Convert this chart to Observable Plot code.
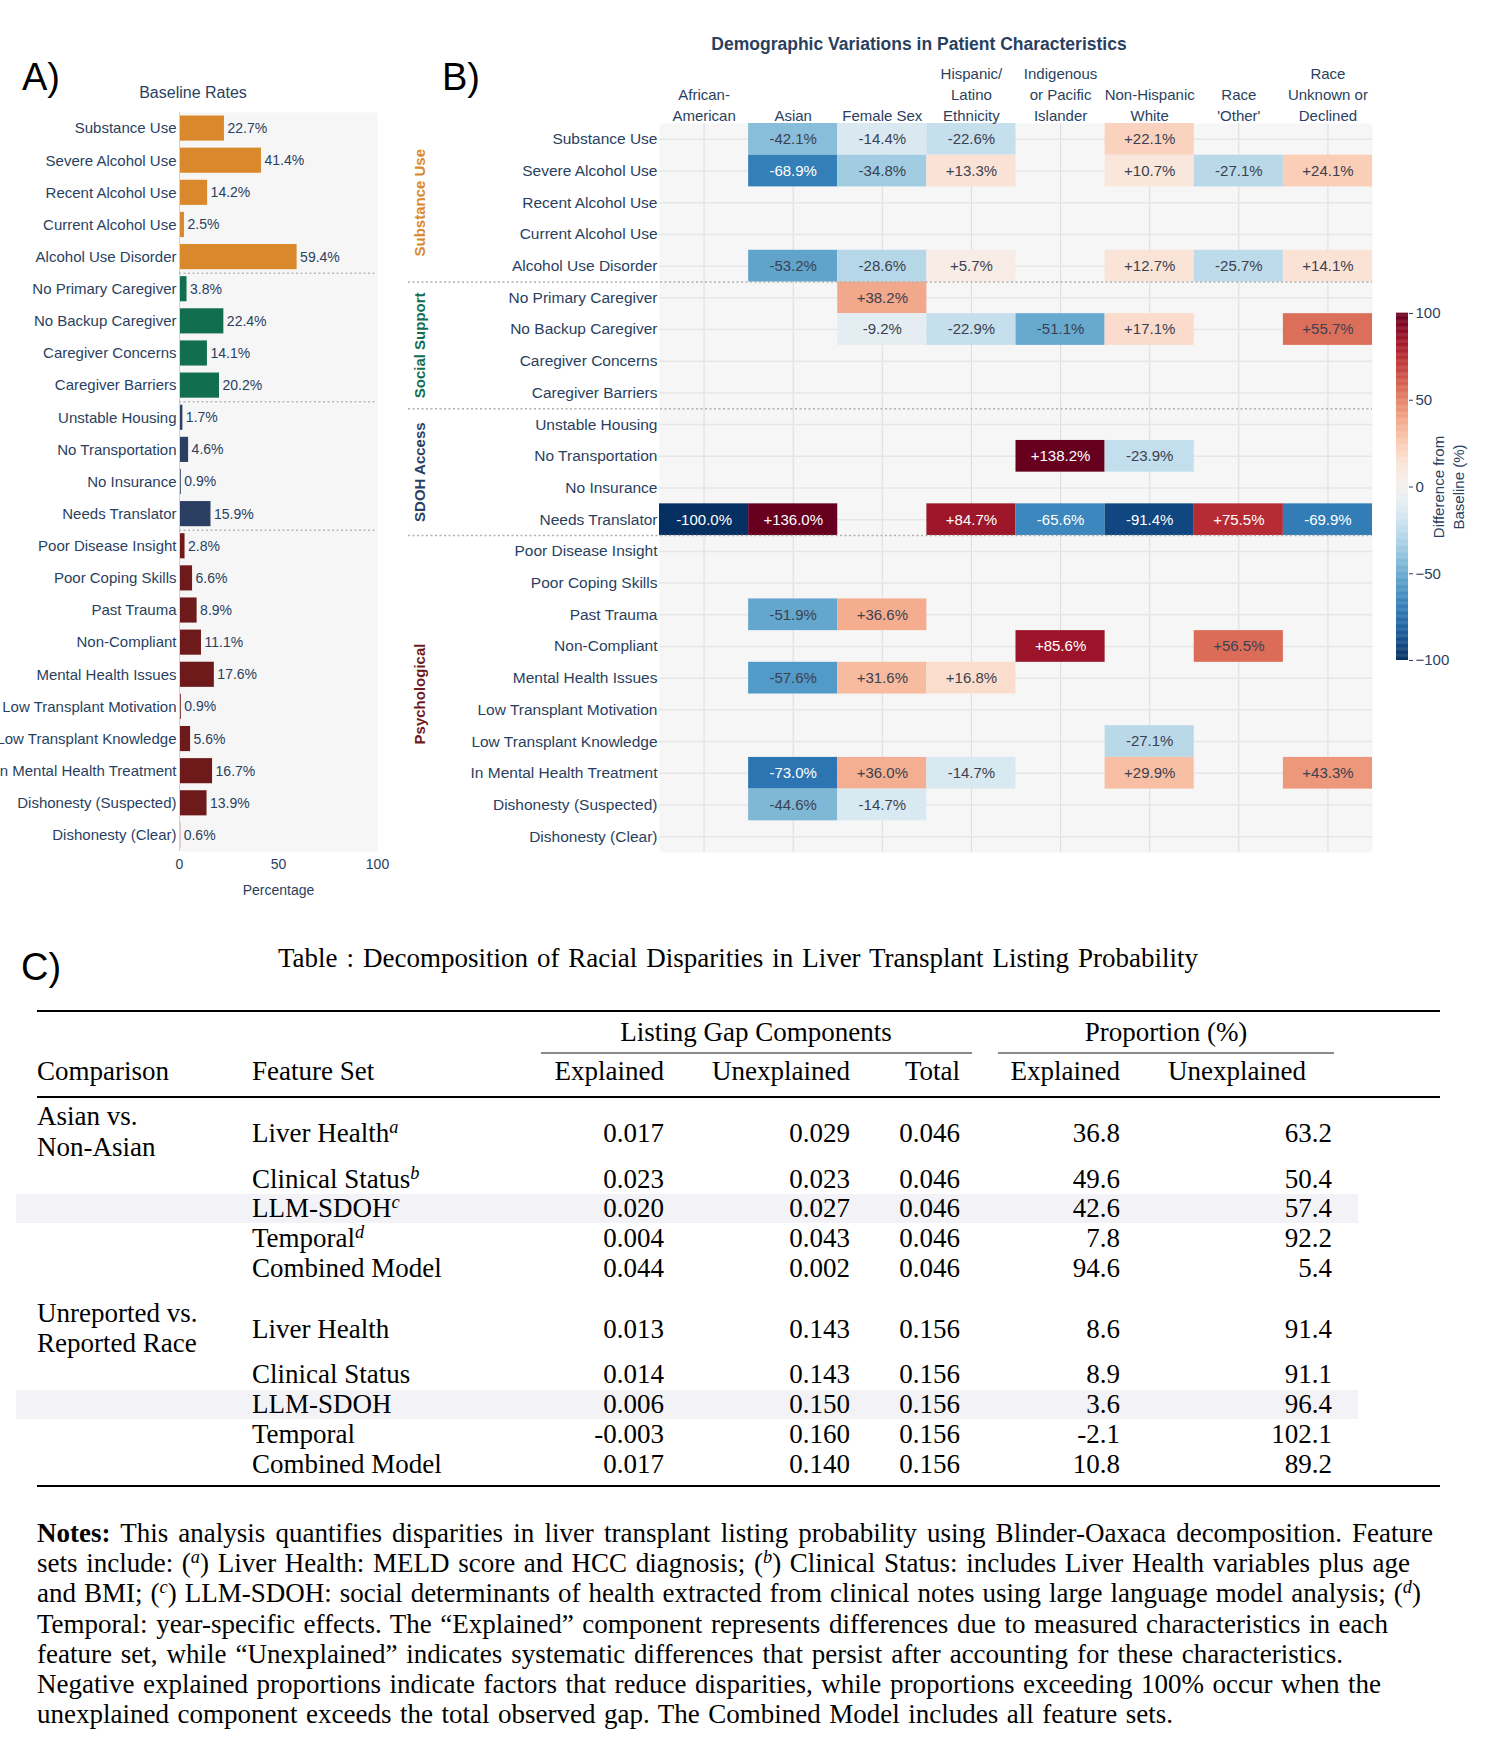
<!DOCTYPE html>
<html>
<head>
<meta charset="utf-8">
<script src="https://cdn.jsdelivr.net/npm/d3@7"></script>
<script src="https://cdn.jsdelivr.net/npm/@observablehq/plot@0.6"></script>
<style>
  html, body { margin: 0; padding: 0; background: #ffffff; }
  #page { position: relative; width: 1493px; height: 1742px; overflow: hidden; background: #fff; }
  .abs { position: absolute; white-space: nowrap; }
  .sans { font-family: "Liberation Sans", Arial, Helvetica, sans-serif; color: #2a3f5f; }
  .serif { font-family: "Liberation Serif", "Times New Roman", serif; color: #000; font-size: 27px; line-height: 1.2; }
  .panel-label { font-family: "Liberation Sans", Arial, Helvetica, sans-serif; font-size: 38px; line-height: 1; color: #000; }
  .rule { position: absolute; }
  sup.fn { font-size: 0.68em; font-style: italic; vertical-align: 0.5em; line-height: 0; }
</style>
</head>
<body>
<div id="page"></div>
<script>
// ---------------- DATA ----------------
const features = [
  "Substance Use", "Severe Alcohol Use", "Recent Alcohol Use", "Current Alcohol Use", "Alcohol Use Disorder",
  "No Primary Caregiver", "No Backup Caregiver", "Caregiver Concerns", "Caregiver Barriers",
  "Unstable Housing", "No Transportation", "No Insurance", "Needs Translator",
  "Poor Disease Insight", "Poor Coping Skills", "Past Trauma", "Non-Compliant", "Mental Health Issues",
  "Low Transplant Motivation", "Low Transplant Knowledge", "In Mental Health Treatment",
  "Dishonesty (Suspected)", "Dishonesty (Clear)"
];
const featureGroup = [
  "Substance Use", "Substance Use", "Substance Use", "Substance Use", "Substance Use",
  "Social Support", "Social Support", "Social Support", "Social Support",
  "SDOH Access", "SDOH Access", "SDOH Access", "SDOH Access",
  "Psychological", "Psychological", "Psychological", "Psychological", "Psychological",
  "Psychological", "Psychological", "Psychological", "Psychological", "Psychological"
];
const baselineRates = [22.7, 41.4, 14.2, 2.5, 59.4, 3.8, 22.4, 14.1, 20.2, 1.7, 4.6, 0.9, 15.9,
  2.8, 6.6, 8.9, 11.1, 17.6, 0.9, 5.6, 16.7, 13.9, 0.6];
const groups = ["Substance Use", "Social Support", "SDOH Access", "Psychological"];
const groupColors = ["#d9892b", "#116e4f", "#2b3f63", "#6f1a1a"];

const demographics = ["African-American", "Asian", "Female Sex", "Hispanic/Latino Ethnicity",
  "Indigenous or Pacific Islander", "Non-Hispanic White", "Race 'Other'", "Race Unknown or Declined"];
const demographicHeaders = ["African-\nAmerican", "Asian", "Female Sex", "Hispanic/\nLatino\nEthnicity",
  "Indigenous\nor Pacific\nIslander", "Non-Hispanic\nWhite", "Race\n'Other'", "Race\nUnknown or\nDeclined"];

// difference from baseline (%) per demographic, in the order of `features` (null = no cell)
const diffAfricanAmerican = [null,null,null,null,null, null,null,null,null, null,null,null,-100.0, null,null,null,null,null,null,null,null,null,null];
const diffAsian =          [-42.1,-68.9,null,null,-53.2, null,null,null,null, null,null,null,136.0, null,null,-51.9,null,-57.6,null,null,-73.0,-44.6,null];
const diffFemale =         [-14.4,-34.8,null,null,-28.6, 38.2,-9.2,null,null, null,null,null,null, null,null,36.6,null,31.6,null,null,36.0,-14.7,null];
const diffHispanic =       [-22.6,13.3,null,null,5.7, null,-22.9,null,null, null,null,null,84.7, null,null,null,null,16.8,null,null,-14.7,null,null];
const diffIndigenous =     [null,null,null,null,null, null,-51.1,null,null, null,138.2,null,-65.6, null,null,null,85.6,null,null,null,null,null,null];
const diffNonHispWhite =   [22.1,10.7,null,null,12.7, null,17.1,null,null, null,-23.9,null,-91.4, null,null,null,null,null,null,-27.1,29.9,null,null];
const diffRaceOther =      [null,-27.1,null,null,-25.7, null,null,null,null, null,null,null,75.5, null,null,null,56.5,null,null,null,null,null,null];
const diffRaceUnknown =    [null,24.1,null,null,14.1, null,55.7,null,null, null,null,null,-69.9, null,null,null,null,null,null,null,43.3,null,null];
const colorbarTicks = [-100, -50, 0, 50, 100];

// Table C
const comparisons = [["Asian vs.", "Non-Asian"], ["Unreported vs.", "Reported Race"]];
const featureSets = ["Liver Health", "Clinical Status", "LLM-SDOH", "Temporal", "Combined Model"];
const footnoteMarks = ["a", "b", "c", "d", ""];
const gapExplained   = [[0.017, 0.023, 0.020, 0.004, 0.044], [0.013, 0.014, 0.006, -0.003, 0.017]];
const gapUnexplained = [[0.029, 0.023, 0.027, 0.043, 0.002], [0.143, 0.143, 0.150, 0.160, 0.140]];
const gapTotal       = [[0.046, 0.046, 0.046, 0.046, 0.046], [0.156, 0.156, 0.156, 0.156, 0.156]];
const propExplained  = [[36.8, 49.6, 42.6, 7.8, 94.6], [8.6, 8.9, 3.6, -2.1, 10.8]];
const propUnexplained= [[63.2, 50.4, 57.4, 92.2, 5.4], [91.4, 91.1, 96.4, 102.1, 89.2]];

// ---------------- LAYOUT HELPERS ----------------
const page = document.getElementById("page");
const SANS = '"Liberation Sans", Arial, Helvetica, sans-serif';
const INK = "#2a3f5f";

function put(html, x, y, {anchor = "start", cls = "", style = {}} = {}) {
  const el = document.createElement("div");
  el.className = "abs " + cls;
  el.innerHTML = html;
  el.style.left = x + "px";
  el.style.top = y + "px";
  const tx = anchor === "start" ? 0 : anchor === "middle" ? -50 : -100;
  el.style.transform = `translate(${tx}%, -50%)`;
  Object.assign(el.style, style);
  page.appendChild(el);
  return el;
}
function fitWidth(el, target) {
  const w = el.getBoundingClientRect().width;
  const spaces = (el.textContent.match(/ /g) || []).length;
  if (spaces > 0) el.style.wordSpacing = ((target - w) / spaces) + "px";
}
function hline(x1, x2, y, thick, color) {
  const el = document.createElement("div");
  el.className = "rule";
  el.style.left = x1 + "px";
  el.style.width = (x2 - x1) + "px";
  el.style.top = (y - thick / 2) + "px";
  el.style.height = thick + "px";
  el.style.background = color;
  page.appendChild(el);
}
function box(x1, x2, y1, y2, color) {
  const el = document.createElement("div");
  el.className = "rule";
  Object.assign(el.style, {left: x1 + "px", width: (x2 - x1) + "px", top: y1 + "px", height: (y2 - y1) + "px", background: color});
  page.appendChild(el);
}
function placeSvg(svg, left, top) {
  svg.style.position = "absolute";
  svg.style.left = left + "px";
  svg.style.top = top + "px";
  page.appendChild(svg);
}

// ---------------- PANEL A ----------------
const rowsA = features.map((f, i) => ({feature: f, value: baselineRates[i], group: featureGroup[i]}));
const groupLast = groups.slice(0, -1).map(g => features[featureGroup.lastIndexOf(g)]);
const A = {width: 400, height: 920, top: 112, bottom: 851, left: 179, right: 377};
const stepA = (A.bottom - A.top) / features.length;

const plotA = Plot.plot({
  width: A.width, height: A.height,
  marginLeft: A.left, marginRight: A.width - A.right, marginTop: A.top, marginBottom: A.height - A.bottom,
  style: {fontFamily: SANS, fontSize: "15px", color: INK, background: "transparent"},
  x: {domain: [0, 100], axis: null},
  y: {domain: features, padding: 0, round: false, axis: null},
  color: {domain: groups, range: groupColors},
  marks: [
    Plot.frame({fill: "#f6f6f6", stroke: "none"}),
    Plot.barX(rowsA, {x: "value", y: "feature", fill: "group", insetTop: 3.5, insetBottom: 3.5}),
    Plot.ruleX([0], {stroke: "#d2d2d2"}),
    Plot.ruleY(groupLast, {dy: stepA / 2, stroke: "#b8b8b8", strokeWidth: 1.5, strokeDasharray: "2,2.5"}),
    Plot.text(rowsA, {x: "value", y: "feature", text: d => d.value.toFixed(1) + "%", textAnchor: "start", dx: 3, fill: INK, fontSize: 14}),
    Plot.axisY({tickSize: 0, tickPadding: 3, label: null}),
    Plot.axisX({ticks: [0, 50, 100], tickSize: 0, tickPadding: 8, label: null, fontSize: 14}),
    Plot.text(["Percentage"], {frameAnchor: "bottom", dy: 39, lineAnchor: "middle", textAnchor: "middle", fill: INK, fontSize: 14})
  ]
});
placeSvg(plotA, 0, 0);

// ---------------- PANEL B ----------------
const diffs = [diffAfricanAmerican, diffAsian, diffFemale, diffHispanic, diffIndigenous, diffNonHispWhite, diffRaceOther, diffRaceUnknown];
const cells = [];
demographics.forEach((d, j) => diffs[j].forEach((v, i) => { if (v != null) cells.push({demo: d, feature: features[i], value: v}); }));
const fmtDiff = d => (d.value > 0 ? "+" : "") + d.value.toFixed(1) + "%";
const B = {left: 400, width: 990, height: 880, top: 123, bottom: 852, x0: 659, x1: 1372};
const stepB = (B.bottom - B.top) / features.length;
const colorScale = {type: "diverging", scheme: "rdbu", reverse: true, domain: [-100, 100], pivot: 0, clamp: true};

const groupLabelMarks = groups.map((g, k) => {
  const first = featureGroup.indexOf(g);
  const n = featureGroup.lastIndexOf(g) - first + 1;
  return Plot.text([g], {
    y: () => features[first], frameAnchor: "left", textAnchor: "middle", lineAnchor: "middle",
    dx: 420 - B.x0, dy: (n - 1) * stepB / 2,
    rotate: -90, fill: groupColors[k], fontWeight: "bold", fontSize: 15
  });
});

const plotB = Plot.plot({
  width: B.width, height: B.height,
  marginLeft: B.x0 - B.left, marginRight: B.left + B.width - B.x1, marginTop: B.top, marginBottom: B.height - B.bottom,
  style: {fontFamily: SANS, fontSize: "15.5px", color: INK, background: "transparent"},
  x: {domain: demographics, padding: 0, round: false, axis: null},
  y: {domain: features, padding: 0, round: false, axis: null},
  color: colorScale,
  marks: [
    Plot.frame({fill: "#f6f6f6", stroke: "none"}),
    Plot.gridX({stroke: "#dcdcdc", strokeOpacity: 1}),
    Plot.gridY({stroke: "#e6e6e6", strokeOpacity: 1, strokeWidth: 1.5}),
    Plot.cell(cells, {x: "demo", y: "feature", fill: "value"}),
    Plot.text(cells, {filter: d => Math.abs(d.value) < 60, x: "demo", y: "feature", text: fmtDiff, fill: "#3b4150", fontSize: 15}),
    Plot.text(cells, {filter: d => Math.abs(d.value) >= 60, x: "demo", y: "feature", text: fmtDiff, fill: "white", fontSize: 15}),
    Plot.ruleY(groupLast, {dy: stepB / 2, insetLeft: -(B.x0 - 408), stroke: "#b0b0b0", strokeWidth: 1.5, strokeDasharray: "2,2.5"}),
    Plot.text(demographics, {x: d => d, frameAnchor: "top", dy: -3, lineAnchor: "bottom", textAnchor: "middle", lineHeight: 1.37,
      text: d => demographicHeaders[demographics.indexOf(d)], fill: INK, fontSize: 15}),
    Plot.axisY({anchor: "left", tickSize: 0, tickPadding: 2, label: null}),
    ...groupLabelMarks
  ]
});
placeSvg(plotB, B.left, 0);

// ---------------- COLORBAR ----------------
const rampValues = d3.range(-100, 100, 0.5);
const CB = {left: 1380, top: 280, width: 113, height: 400};
const plotCB = Plot.plot({
  width: CB.width, height: CB.height,
  marginLeft: 16, marginRight: CB.width - 28, marginTop: 313 - CB.top, marginBottom: CB.top + CB.height - 660,
  style: {fontFamily: SANS, fontSize: "15px", color: INK, background: "transparent"},
  y: {domain: [-100, 100], axis: null},
  color: colorScale,
  marks: [
    Plot.rect(rampValues, {y1: d => d, y2: d => d + 0.7, fill: d => d + 0.25}),
    Plot.axisY({anchor: "right", ticks: colorbarTicks, tickSize: 4, tickPadding: 3, label: null}),
    Plot.text(["Difference from\nBaseline (%)"], {frameAnchor: "right", textAnchor: "middle", lineAnchor: "middle",
      dx: 39, rotate: -90, lineHeight: 1.35, fill: INK, fontSize: 15})
  ]
});
placeSvg(plotCB, CB.left, CB.top);

// ---------------- TITLES / PANEL LABELS ----------------
function panelLabel(t, x, top) {
  const el = document.createElement("div");
  el.className = "abs panel-label";
  el.textContent = t;
  el.style.left = x + "px"; el.style.top = top + "px";
  page.appendChild(el);
}
panelLabel("A)", 22, 58);
panelLabel("B)", 442, 58);
panelLabel("C)", 21, 948);
put("Baseline Rates", 193, 93, {anchor: "middle", cls: "sans", style: {fontSize: "16px"}});
put("Demographic Variations in Patient Characteristics", 919, 44, {anchor: "middle", cls: "sans", style: {fontSize: "17.5px", fontWeight: "bold"}});

// ---------------- TABLE C ----------------
const cap = put("Table : Decomposition of Racial Disparities in Liver Transplant Listing Probability", 278, 958, {cls: "serif"});
fitWidth(cap, 1198 - 278);
hline(37, 1440, 1011, 2.5, "#000");
put("Listing Gap Components", 756, 1032, {anchor: "middle", cls: "serif"});
put("Proportion (%)", 1166, 1032, {anchor: "middle", cls: "serif"});
hline(541, 972, 1053, 1.5, "#8a8a8a");
hline(998, 1334, 1053, 1.5, "#8a8a8a");
put("Comparison", 37, 1071, {cls: "serif"});
put("Feature Set", 252, 1071, {cls: "serif"});
const headerRight = [664, 850, 960, 1120, 1306];
["Explained", "Unexplained", "Total", "Explained", "Unexplained"].forEach((h, k) => put(h, headerRight[k], 1071, {anchor: "end", cls: "serif"}));
hline(37, 1440, 1097, 1.6, "#000");

const rowY = [[1133, 1179, 1208, 1238, 1268], [1329, 1374, 1404, 1434, 1464]];
const compY = [[1116, 1147], [1313, 1343]];
const valueRight = [664, 850, 960, 1120, 1332];
// shaded LLM-SDOH rows
box(16, 1358, 1194, 1223, "#f3f3f7");
box(16, 1358, 1390, 1419, "#f3f3f7");
comparisons.forEach((c, g) => {
  c.forEach((line, l) => put(line, 37, compY[g][l], {cls: "serif"}));
  featureSets.forEach((f, r) => {
    const y = rowY[g][r];
    const mark = g === 0 && footnoteMarks[r] ? `<sup class="fn">${footnoteMarks[r]}</sup>` : "";
    put(f + mark, 252, y, {cls: "serif"});
    const vals = [gapExplained[g][r].toFixed(3), gapUnexplained[g][r].toFixed(3), gapTotal[g][r].toFixed(3),
                  propExplained[g][r].toFixed(1), propUnexplained[g][r].toFixed(1)];
    vals.forEach((v, k) => put(v, valueRight[k], y, {anchor: "end", cls: "serif"}));
  });
});
hline(37, 1440, 1486, 2.5, "#000");

// Notes (ragged right lines, each stretched to its measured end)
const notesLines = [
  '<b>Notes:</b> This analysis quantifies disparities in liver transplant listing probability using Blinder-Oaxaca decomposition. Feature',
  'sets include: (<sup class="fn">a</sup>) Liver Health: MELD score and HCC diagnosis; (<sup class="fn">b</sup>) Clinical Status: includes Liver Health variables plus age',
  'and BMI; (<sup class="fn">c</sup>) LLM-SDOH: social determinants of health extracted from clinical notes using large language model analysis; (<sup class="fn">d</sup>)',
  'Temporal: year-specific effects. The “Explained” component represents differences due to measured characteristics in each',
  'feature set, while “Unexplained” indicates systematic differences that persist after accounting for these characteristics.',
  'Negative explained proportions indicate factors that reduce disparities, while proportions exceeding 100% occur when the',
  'unexplained component exceeds the total observed gap. The Combined Model includes all feature sets.'
];
const notesRight = [1433, 1410, 1421, 1388, 1343, 1381, 1173];
notesLines.forEach((t, i) => {
  const el = put(t, 37, 1533 + i * 30.2, {cls: "serif"});
  fitWidth(el, notesRight[i] - 37);
});
</script>
</body>
</html>
